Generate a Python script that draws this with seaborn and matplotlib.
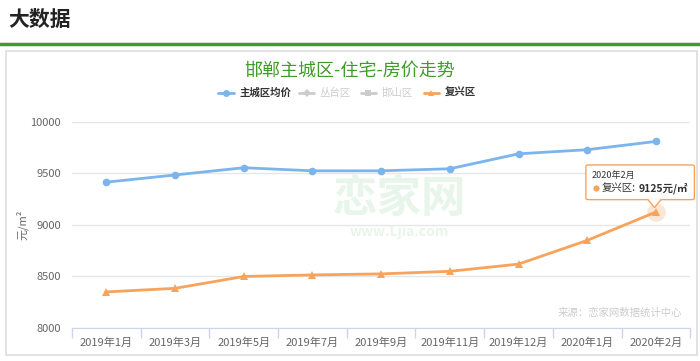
import pandas as pd
import seaborn as sns
import matplotlib.pyplot as plt
from matplotlib.patches import Rectangle, FancyBboxPatch, Polygon
from matplotlib.lines import Line2D

months = ['2019年1月', '2019年3月', '2019年5月', '2019年7月', '2019年9月',
          '2019年11月', '2019年12月', '2020年1月', '2020年2月']
main_city = [9415, 9485, 9555, 9525, 9525, 9545, 9690, 9730, 9810]
fuxing = [8350, 8385, 8500, 8515, 8525, 8550, 8620, 8850, 9125]
series_names = ['主城区均价', '丛台区', '邯山区', '复兴区']
y_ticks = [8000, 8500, 9000, 9500, 10000]

blue = '#7cb5ec'
orange = '#f7a35c'
green = '#3f9b2a'

df = pd.DataFrame({
    'month': months * 2,
    'price': main_city + fuxing,
    'series': ['主城区均价'] * len(months) + ['复兴区'] * len(months),
})

sns.set_style('white')
plt.rcParams['font.family'] = ['Noto Sans CJK SC', 'DejaVu Sans']

fig = plt.figure(figsize=(7, 3.61), dpi=100)
ax = fig.add_axes([0.103, 0.0914, 0.883, 0.571])

# faint watermark behind the lines
fig.text(0.57, 0.45, '恋家网', fontsize=32, color='#e8f5ea', ha='center',
         va='center', fontweight='bold', zorder=0)
fig.text(0.57, 0.358, 'www.Ljia.com', fontsize=10, color='#e8f5ea',
         ha='center', va='center', fontweight='bold', zorder=0)
ax.patch.set_alpha(0)

sns.lineplot(data=df, x='month', y='price', hue='series', style='series',
             palette={'主城区均价': blue, '复兴区': orange},
             markers={'主城区均价': 'o', '复兴区': '^'}, dashes=False,
             markersize=5.5, markeredgewidth=0, linewidth=2,
             legend=False, sort=False, ax=ax)

# highlight halo on the hovered point
ax.scatter([len(months) - 1], [fuxing[-1]], s=180, color=orange, alpha=0.25,
           linewidths=0, zorder=1)

ax.set_xlim(-0.5, len(months) - 0.5)
ax.set_ylim(8000, 10000)
ax.set_yticks(y_ticks)
ax.set_yticklabels([str(v) for v in y_ticks])
ax.grid(axis='y', color='#e6e6e6', linewidth=1)
ax.set_axisbelow(True)
for s in ['top', 'right', 'left']:
    ax.spines[s].set_visible(False)
ax.spines['bottom'].set_color('#ccd6eb')
ax.tick_params(axis='y', length=0, labelsize=8, labelcolor='#666666', pad=8)
ax.tick_params(axis='x', which='major', length=0, labelsize=8,
               labelcolor='#666666', pad=7)
ax.set_xticks([i - 0.5 for i in range(len(months) + 1)], minor=True)
ax.tick_params(axis='x', which='minor', bottom=True, direction='out',
               length=7, width=1, color='#ccd6eb')
ax.set_xlabel('')
ax.set_ylabel('')
fig.text(0.032, 0.377, '元/m²', fontsize=8, color='#666666', rotation=90,
         ha='center', va='center')

# header
fig.text(0.012, 0.945, '大数据', fontsize=15, fontweight='bold', color='#222222',
         va='center')
fig.add_artist(Line2D([0.0, 1.0], [0.878, 0.878], color=green, linewidth=2.5,
                      transform=fig.transFigure))
fig.add_artist(Rectangle((0.009, 0.017), 0.986, 0.842, fill=False,
                         edgecolor='#dddddd', linewidth=1.2,
                         transform=fig.transFigure))

# title
fig.text(0.5, 0.805, '邯郸主城区-住宅-房价走势', fontsize=13, color=green,
         ha='center', va='center')

# legend
leg_y = 0.742
leg_x = [0.346, 0.461, 0.549, 0.639]
leg_colors = [blue, '#cccccc', '#cccccc', orange]
leg_markers = ['o', 'D', 's', '^']
leg_text_colors = ['#333333', '#cccccc', '#cccccc', '#333333']
for x, name, c, m, tc in zip(leg_x, series_names, leg_colors, leg_markers,
                             leg_text_colors):
    fig.add_artist(Line2D([x - 0.034, x - 0.012], [leg_y, leg_y], color=c,
                          linewidth=2, transform=fig.transFigure))
    fig.add_artist(Line2D([x - 0.023], [leg_y], color=c, marker=m,
                          markersize=4 if m == 'D' else 5,
                          markeredgewidth=0, transform=fig.transFigure))
    fig.text(x - 0.004, leg_y, name, fontsize=7.5, color=tc, va='center',
             fontweight='bold' if tc == '#333333' else 'normal')

# source note
fig.text(0.975, 0.133, '来源：恋家网数据统计中心', fontsize=7.5, color='#cccccc',
         ha='right', va='center')

# tooltip
tip = FancyBboxPatch((0.837, 0.447), 0.155, 0.096,
                     boxstyle='round,pad=0,rounding_size=0.004',
                     facecolor='white', edgecolor=orange, linewidth=1,
                     transform=fig.transFigure, zorder=5)
fig.add_artist(tip)
fig.add_artist(Polygon([[0.925, 0.4485], [0.935, 0.425], [0.945, 0.4485]],
                       closed=False, facecolor='white', edgecolor=orange,
                       linewidth=1, transform=fig.transFigure, zorder=6))
fig.text(0.845, 0.514, '2020年2月', fontsize=6.5, color='#333333',
         va='center', zorder=6)
fig.add_artist(Line2D([0.851], [0.479], marker='o', color=orange,
                      markersize=4.5, markeredgewidth=0,
                      transform=fig.transFigure, zorder=6))
fig.text(0.859, 0.479, '复兴区:', fontsize=7.5, color='#333333',
         va='center', zorder=6)
fig.text(0.913, 0.479, '9125元/㎡', fontsize=7.5, color='#333333',
         fontweight='bold', va='center', zorder=6)

fig.savefig('out.png', dpi=100)
